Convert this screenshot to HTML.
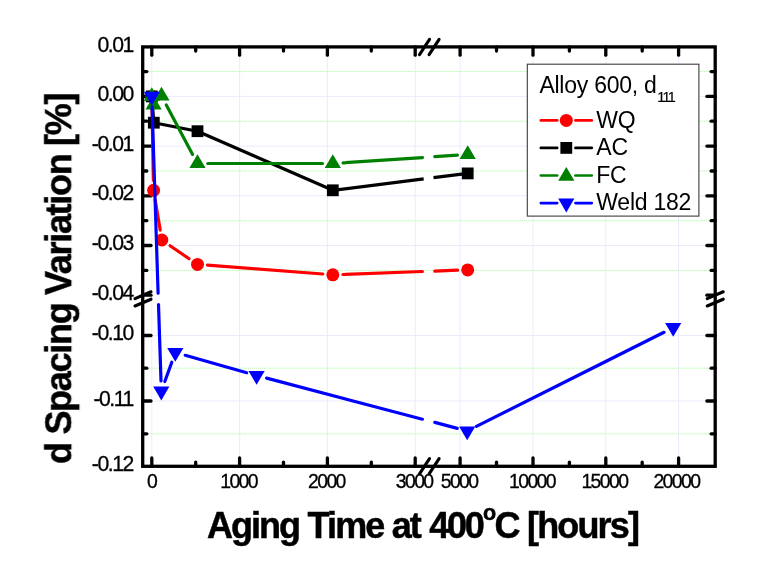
<!DOCTYPE html>
<html lang="en">
<head>
<meta charset="utf-8">
<title>d Spacing Variation vs Aging Time at 400C</title>
<style>
html,body{margin:0;padding:0;background:#fff;}
body{width:763px;height:578px;overflow:hidden;font-family:"Liberation Sans",Arial,sans-serif;}
svg text{white-space:pre;}
</style>
</head>
<body>
<svg width="763" height="578" viewBox="0 0 763 578" style="display:block">
<rect x="0" y="0" width="763" height="578" fill="#fff"/>
<filter id="soft" x="0" y="0" width="100%" height="100%" filterUnits="userSpaceOnUse"><feGaussianBlur stdDeviation="0.4"/></filter>
<g filter="url(#soft)">
<g stroke-width="1" fill="none">
<line x1="151.8" y1="48.4" x2="151.8" y2="464.8" stroke="#ebebfb"/>
<line x1="239.6" y1="48.4" x2="239.6" y2="464.8" stroke="#ebebfb"/>
<line x1="327.4" y1="48.4" x2="327.4" y2="464.8" stroke="#ebebfb"/>
<line x1="415.2" y1="48.4" x2="415.2" y2="464.8" stroke="#ebebfb"/>
<line x1="460.1" y1="48.4" x2="460.1" y2="464.8" stroke="#ebebfb"/>
<line x1="533.0" y1="48.4" x2="533.0" y2="464.8" stroke="#ebebfb"/>
<line x1="605.8" y1="48.4" x2="605.8" y2="464.8" stroke="#ebebfb"/>
<line x1="678.6" y1="48.4" x2="678.6" y2="464.8" stroke="#ebebfb"/>
<line x1="144.2" y1="96.4" x2="713.7" y2="96.4" stroke="#ebebfb"/>
<line x1="144.2" y1="146.1" x2="713.7" y2="146.1" stroke="#ebebfb"/>
<line x1="144.2" y1="195.8" x2="713.7" y2="195.8" stroke="#ebebfb"/>
<line x1="144.2" y1="245.5" x2="713.7" y2="245.5" stroke="#ebebfb"/>
<line x1="144.2" y1="335.5" x2="713.7" y2="335.5" stroke="#ebebfb"/>
<line x1="144.2" y1="401.0" x2="713.7" y2="401.0" stroke="#ebebfb"/>
<line x1="144.2" y1="71.6" x2="713.7" y2="71.6" stroke="#b4ecae" stroke-dasharray="1 1"/>
<line x1="144.2" y1="121.2" x2="713.7" y2="121.2" stroke="#b4ecae" stroke-dasharray="1 1"/>
<line x1="144.2" y1="171.0" x2="713.7" y2="171.0" stroke="#b4ecae" stroke-dasharray="1 1"/>
<line x1="144.2" y1="220.7" x2="713.7" y2="220.7" stroke="#b4ecae" stroke-dasharray="1 1"/>
<line x1="144.2" y1="270.4" x2="713.7" y2="270.4" stroke="#b4ecae" stroke-dasharray="1 1"/>
<line x1="144.2" y1="368.2" x2="713.7" y2="368.2" stroke="#b4ecae" stroke-dasharray="1 1"/>
<line x1="144.2" y1="433.8" x2="713.7" y2="433.8" stroke="#b4ecae" stroke-dasharray="1 1"/>
</g>
<g stroke="#000" stroke-width="3.3" stroke-linecap="round" fill="none">
<rect x="142.7" y="46.9" width="572.5" height="419.4" stroke-linejoin="miter"/>
<line x1="151.8" y1="46.9" x2="151.8" y2="55.2"/>
<line x1="151.8" y1="466.3" x2="151.8" y2="458.0"/>
<line x1="239.6" y1="46.9" x2="239.6" y2="55.2"/>
<line x1="239.6" y1="466.3" x2="239.6" y2="458.0"/>
<line x1="327.4" y1="46.9" x2="327.4" y2="55.2"/>
<line x1="327.4" y1="466.3" x2="327.4" y2="458.0"/>
<line x1="415.2" y1="46.9" x2="415.2" y2="55.2"/>
<line x1="415.2" y1="466.3" x2="415.2" y2="458.0"/>
<line x1="460.1" y1="46.9" x2="460.1" y2="55.2"/>
<line x1="460.1" y1="466.3" x2="460.1" y2="458.0"/>
<line x1="533.0" y1="46.9" x2="533.0" y2="55.2"/>
<line x1="533.0" y1="466.3" x2="533.0" y2="458.0"/>
<line x1="605.8" y1="46.9" x2="605.8" y2="55.2"/>
<line x1="605.8" y1="466.3" x2="605.8" y2="458.0"/>
<line x1="678.6" y1="46.9" x2="678.6" y2="55.2"/>
<line x1="678.6" y1="466.3" x2="678.6" y2="458.0"/>
<line x1="195.7" y1="46.9" x2="195.7" y2="51.0"/>
<line x1="195.7" y1="466.3" x2="195.7" y2="462.2"/>
<line x1="283.5" y1="46.9" x2="283.5" y2="51.0"/>
<line x1="283.5" y1="466.3" x2="283.5" y2="462.2"/>
<line x1="371.3" y1="46.9" x2="371.3" y2="51.0"/>
<line x1="371.3" y1="466.3" x2="371.3" y2="462.2"/>
<line x1="496.5" y1="46.9" x2="496.5" y2="51.0"/>
<line x1="496.5" y1="466.3" x2="496.5" y2="462.2"/>
<line x1="569.4" y1="46.9" x2="569.4" y2="51.0"/>
<line x1="569.4" y1="466.3" x2="569.4" y2="462.2"/>
<line x1="642.2" y1="46.9" x2="642.2" y2="51.0"/>
<line x1="642.2" y1="466.3" x2="642.2" y2="462.2"/>
<line x1="142.7" y1="96.4" x2="151.0" y2="96.4"/>
<line x1="715.2" y1="96.4" x2="706.9" y2="96.4"/>
<line x1="142.7" y1="146.1" x2="151.0" y2="146.1"/>
<line x1="715.2" y1="146.1" x2="706.9" y2="146.1"/>
<line x1="142.7" y1="195.8" x2="151.0" y2="195.8"/>
<line x1="715.2" y1="195.8" x2="706.9" y2="195.8"/>
<line x1="142.7" y1="245.5" x2="151.0" y2="245.5"/>
<line x1="715.2" y1="245.5" x2="706.9" y2="245.5"/>
<line x1="142.7" y1="295.2" x2="151.0" y2="295.2"/>
<line x1="715.2" y1="295.2" x2="706.9" y2="295.2"/>
<line x1="142.7" y1="335.5" x2="151.0" y2="335.5"/>
<line x1="715.2" y1="335.5" x2="706.9" y2="335.5"/>
<line x1="142.7" y1="401.0" x2="151.0" y2="401.0"/>
<line x1="715.2" y1="401.0" x2="706.9" y2="401.0"/>
<line x1="142.7" y1="71.6" x2="146.8" y2="71.6"/>
<line x1="715.2" y1="71.6" x2="711.1" y2="71.6"/>
<line x1="142.7" y1="121.2" x2="146.8" y2="121.2"/>
<line x1="715.2" y1="121.2" x2="711.1" y2="121.2"/>
<line x1="142.7" y1="171.0" x2="146.8" y2="171.0"/>
<line x1="715.2" y1="171.0" x2="711.1" y2="171.0"/>
<line x1="142.7" y1="220.7" x2="146.8" y2="220.7"/>
<line x1="715.2" y1="220.7" x2="711.1" y2="220.7"/>
<line x1="142.7" y1="270.4" x2="146.8" y2="270.4"/>
<line x1="715.2" y1="270.4" x2="711.1" y2="270.4"/>
<line x1="142.7" y1="368.2" x2="146.8" y2="368.2"/>
<line x1="715.2" y1="368.2" x2="711.1" y2="368.2"/>
<line x1="142.7" y1="433.8" x2="146.8" y2="433.8"/>
<line x1="715.2" y1="433.8" x2="711.1" y2="433.8"/>
</g>
<clipPath id="plotclip"><rect x="144.3" y="48.5" width="569.2" height="416.1"/></clipPath>
<g clip-path="url(#plotclip)">
<g stroke="#ff0000" stroke-width="3.2" stroke-linecap="round" fill="none">
<line x1="152.0" y1="106.5" x2="153.4" y2="180.2"/>
<line x1="155.2" y1="200.3" x2="160.2" y2="230.1"/>
<line x1="170.1" y1="245.7" x2="189.1" y2="258.7"/>
<line x1="207.5" y1="265.2" x2="322.8" y2="274.0"/>
<line x1="342.9" y1="274.5" x2="422.4" y2="271.5"/>
<line x1="434.8" y1="271.1" x2="457.6" y2="270.2"/>
</g>
<g>
<circle cx="151.8" cy="96.4" r="6.5" fill="#ff0000"/>
<circle cx="153.6" cy="190.3" r="6.5" fill="#ff0000"/>
<circle cx="161.8" cy="240.0" r="6.5" fill="#ff0000"/>
<circle cx="197.5" cy="264.4" r="6.5" fill="#ff0000"/>
<circle cx="332.8" cy="274.8" r="6.5" fill="#ff0000"/>
<circle cx="467.7" cy="269.9" r="6.5" fill="#ff0000"/>
</g>
<g stroke="#000000" stroke-width="3.2" stroke-linecap="butt" fill="none">
<line x1="151.8" y1="96.4" x2="153.8" y2="122.7"/>
<line x1="153.8" y1="122.7" x2="197.5" y2="131.2"/>
<line x1="197.5" y1="131.2" x2="332.8" y2="190.3"/>
<line x1="332.8" y1="190.3" x2="423.7" y2="178.9"/>
<line x1="433.5" y1="177.7" x2="467.7" y2="173.4"/>
</g>
<g>
<rect x="145.9" y="90.5" width="11.8" height="11.8" fill="#000000"/>
<rect x="147.9" y="116.8" width="11.8" height="11.8" fill="#000000"/>
<rect x="191.6" y="125.3" width="11.8" height="11.8" fill="#000000"/>
<rect x="326.9" y="184.4" width="11.8" height="11.8" fill="#000000"/>
<rect x="461.8" y="167.5" width="11.8" height="11.8" fill="#000000"/>
</g>
<g stroke="#008000" stroke-width="3.2" stroke-linecap="round" fill="none">
<line x1="166.3" y1="105.0" x2="192.6" y2="154.4"/>
<line x1="207.8" y1="163.5" x2="322.5" y2="163.5"/>
<line x1="343.1" y1="162.8" x2="422.4" y2="157.6"/>
<line x1="434.8" y1="156.7" x2="457.4" y2="155.2"/>
</g>
<g>
<polygon points="143.7,101.0 159.9,101.0 151.8,87.2" fill="#008000"/>
<polygon points="145.5,109.4 161.7,109.4 153.6,95.6" fill="#008000"/>
<polygon points="153.4,100.5 169.6,100.5 161.5,86.7" fill="#008000"/>
<polygon points="189.4,168.1 205.6,168.1 197.5,154.3" fill="#008000"/>
<polygon points="324.7,168.1 340.9,168.1 332.8,154.3" fill="#008000"/>
<polygon points="459.6,159.1 475.8,159.1 467.7,145.3" fill="#008000"/>
</g>
<g stroke="#0000ff" stroke-width="3.2" stroke-linecap="round" fill="none">
<line x1="152.1" y1="106.7" x2="158.1" y2="293.2"/>
<line x1="158.5" y1="304.5" x2="161.0" y2="380.9"/>
<line x1="164.8" y1="381.5" x2="171.8" y2="362.2"/>
<line x1="185.2" y1="355.3" x2="246.7" y2="372.7"/>
<line x1="266.6" y1="378.1" x2="422.4" y2="419.2"/>
<line x1="434.8" y1="422.4" x2="457.3" y2="428.4"/>
<line x1="476.4" y1="426.4" x2="664.0" y2="332.3"/>
</g>
<g>
<polygon points="143.7,91.8 159.9,91.8 151.8,105.6" fill="#0000ff"/>
<polygon points="153.2,386.6 169.4,386.6 161.3,400.4" fill="#0000ff"/>
<polygon points="167.2,347.9 183.4,347.9 175.3,361.7" fill="#0000ff"/>
<polygon points="248.5,370.9 264.7,370.9 256.6,384.7" fill="#0000ff"/>
<polygon points="459.1,426.4 475.3,426.4 467.2,440.2" fill="#0000ff"/>
<polygon points="665.1,323.0 681.3,323.0 673.2,336.8" fill="#0000ff"/>
</g>
</g>
<g stroke="#000" stroke-width="3.1" stroke-linecap="round" fill="none">
<line x1="419.5" y1="54.6" x2="429.5" y2="39.4"/>
<line x1="429.1" y1="54.6" x2="439.1" y2="39.4"/>
<line x1="419.5" y1="473.8" x2="429.5" y2="458.6"/>
<line x1="429.1" y1="473.8" x2="439.1" y2="458.6"/>
<line x1="135.0" y1="298.6" x2="151.0" y2="291.8"/>
<line x1="135.0" y1="306.0" x2="151.0" y2="299.2"/>
<line x1="707.2" y1="298.6" x2="723.2" y2="291.8"/>
<line x1="707.2" y1="306.0" x2="723.2" y2="299.2"/>
</g>
<g font-family="'Liberation Sans', Arial, sans-serif" font-size="21.2" fill="#000" stroke="#000" stroke-width="0.3" text-anchor="end" letter-spacing="-1.45">
<text x="132.9" y="52.0">0.01</text>
<text x="132.9" y="100.9">0.00</text>
<text x="132.9" y="150.6">-0.01</text>
<text x="132.9" y="200.3">-0.02</text>
<text x="132.9" y="250.0">-0.03</text>
<text x="132.9" y="299.7">-0.04</text>
<text x="132.9" y="340.0">-0.10</text>
<text x="132.9" y="405.5">-0.11</text>
<text x="132.9" y="471.0">-0.12</text>
</g>
<g font-family="'Liberation Sans', Arial, sans-serif" font-size="19.4" fill="#000" stroke="#000" stroke-width="0.3" text-anchor="middle" letter-spacing="-1.6">
<text x="151.5" y="488.1">0</text>
<text x="238.6" y="488.1">1000</text>
<text x="326.4" y="488.1">2000</text>
<text x="414.2" y="488.1">3000</text>
<text x="459.1" y="488.1">5000</text>
<text x="532.0" y="488.1">10000</text>
<text x="604.4" y="488.1">15000</text>
<text x="676.4" y="488.1">20000</text>
</g>
<g font-family="'Liberation Sans', Arial, sans-serif" font-size="36" font-weight="bold" fill="#000" stroke="#000" stroke-width="0.5">
<text y="537.6"><tspan x="207" letter-spacing="-2.0">Aging </tspan><tspan x="307.4" letter-spacing="-1.8">Time </tspan><tspan x="391.8" letter-spacing="-2.0">at </tspan><tspan x="429.2" letter-spacing="-2.2">400</tspan><tspan x="482.9" dy="-17.6" font-size="21.5">o</tspan><tspan x="494.6" dy="17.6">C </tspan><tspan x="527" letter-spacing="-1.85">[hours]</tspan></text>
</g>
<text font-family="'Liberation Sans', Arial, sans-serif" font-size="36" font-weight="bold" fill="#000" stroke="#000" stroke-width="0.5" letter-spacing="-1.3" transform="translate(71.2 464) rotate(-90)">d Spacing Variation [%]</text>
<rect x="527.3" y="64.2" width="171.6" height="151.9" fill="#fff" stroke="#3c3c3c" stroke-width="1.1"/>
<g font-family="'Liberation Sans', Arial, sans-serif" font-size="23" fill="#000" letter-spacing="-0.25">
<text x="539.4" y="92.9">Alloy 600, d<tspan font-size="14.4" dy="9.4" dx="0.6" letter-spacing="-1.6" stroke="#000" stroke-width="0.2">111</tspan></text>
<line x1="540.8" y1="120.4" x2="557.2" y2="120.4" stroke="#ff0000" stroke-width="2.6" stroke-linecap="round"/>
<line x1="575.4" y1="120.4" x2="591.8" y2="120.4" stroke="#ff0000" stroke-width="2.6" stroke-linecap="round"/>
<circle cx="566.3" cy="120.4" r="6.5" fill="#ff0000"/>
<text x="596.3" y="127.6">WQ</text>
<line x1="540.8" y1="147.9" x2="557.2" y2="147.9" stroke="#000000" stroke-width="2.6" stroke-linecap="round"/>
<line x1="575.4" y1="147.9" x2="591.8" y2="147.9" stroke="#000000" stroke-width="2.6" stroke-linecap="round"/>
<rect x="560.4" y="142.0" width="11.8" height="11.8" fill="#000000"/>
<text x="596.3" y="155.1">AC</text>
<line x1="540.8" y1="175.5" x2="557.2" y2="175.5" stroke="#008000" stroke-width="2.6" stroke-linecap="round"/>
<line x1="575.4" y1="175.5" x2="591.8" y2="175.5" stroke="#008000" stroke-width="2.6" stroke-linecap="round"/>
<polygon points="558.2,180.7 574.4,180.7 566.3,166.9" fill="#008000"/>
<text x="596.3" y="182.7">FC</text>
<line x1="540.8" y1="203.1" x2="557.2" y2="203.1" stroke="#0000ff" stroke-width="2.6" stroke-linecap="round"/>
<line x1="575.4" y1="203.1" x2="591.8" y2="203.1" stroke="#0000ff" stroke-width="2.6" stroke-linecap="round"/>
<polygon points="558.2,198.6 574.4,198.6 566.3,212.4" fill="#0000ff"/>
<text x="596.3" y="210.3">Weld 182</text>
</g>
</g>
</svg>
</body>
</html>
